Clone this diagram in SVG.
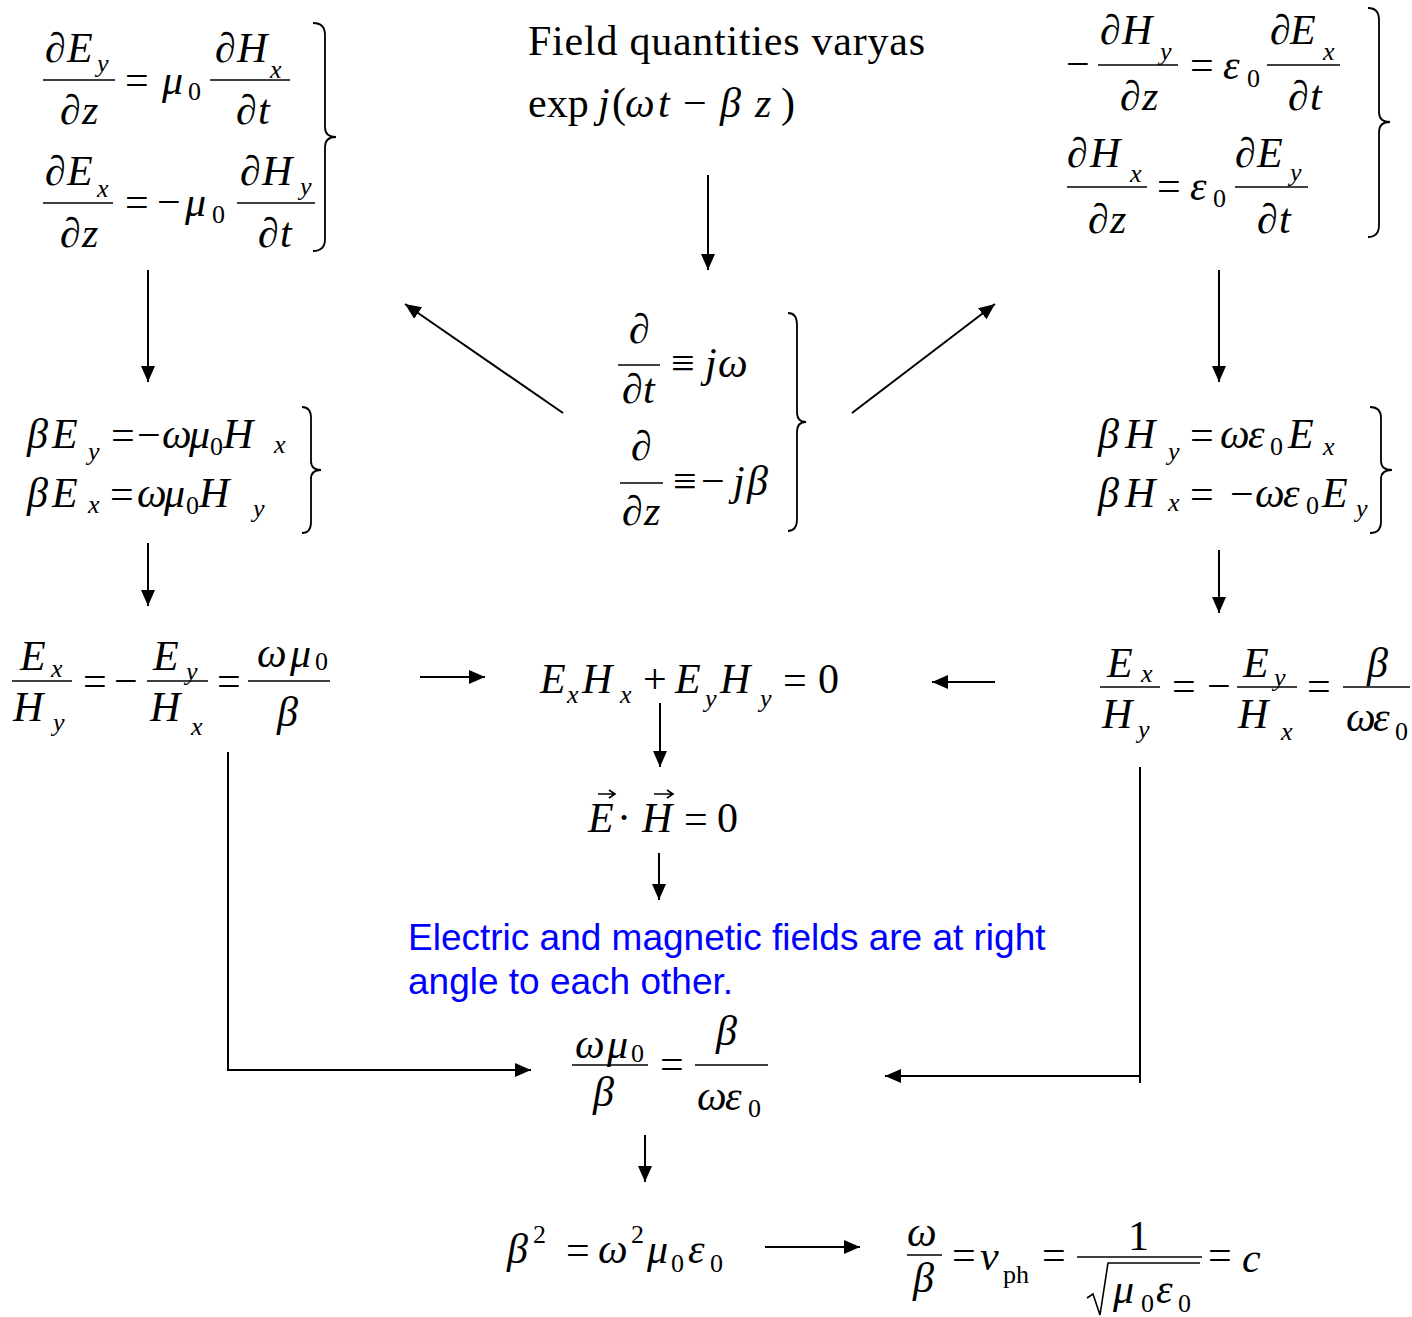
<svg xmlns="http://www.w3.org/2000/svg" width="1412" height="1317" viewBox="0 0 1412 1317">
<style>
.m{font-family:"Liberation Serif","Times New Roman",serif;font-size:42px;font-style:italic;fill:#000}
.u{font-style:normal}
.i{font-style:italic}
.s{font-size:26px}
.t{font-family:"Liberation Serif","Times New Roman",serif;font-size:42px;fill:#000}
.note{font-family:"Liberation Sans",Arial,sans-serif;font-size:37px;fill:#0000ff}
.bar{stroke:#000;stroke-width:1.6;fill:none}
.brace{stroke:#000;stroke-width:1.8;fill:none}
.c{stroke:#000;stroke-width:2;fill:none}
</style>
<defs>
<marker id="ah" viewBox="0 0 16 14" refX="16" refY="7" markerWidth="16" markerHeight="14" markerUnits="userSpaceOnUse" orient="auto"><path d="M0,0 L16,7 L0,14 z" fill="#000"/></marker>
</defs>
<rect width="1412" height="1317" fill="#fff"/>

<g id="faraday">
<text class="m" y="62"><tspan x="45">∂</tspan><tspan x="67">E</tspan><tspan class="s" x="97" y="72">y</tspan></text>
<line class="bar" x1="43" y1="80" x2="115" y2="80"/>
<text class="m" y="124"><tspan x="60">∂</tspan><tspan x="82">z</tspan></text>
<text class="m" y="94"><tspan class="u" x="125">=</tspan><tspan x="162">μ</tspan><tspan class="u s" x="188" y="100">0</tspan></text>
<text class="m" y="62"><tspan x="215">∂</tspan><tspan x="237">H</tspan><tspan class="s" x="270" y="78">x</tspan></text>
<line class="bar" x1="210" y1="80" x2="290" y2="80"/>
<text class="m" y="124"><tspan x="236">∂</tspan><tspan x="258">t</tspan></text>
<text class="m" y="185"><tspan x="45">∂</tspan><tspan x="67">E</tspan><tspan class="s" x="97" y="197">x</tspan></text>
<line class="bar" x1="43" y1="203" x2="113" y2="203"/>
<text class="m" y="247"><tspan x="60">∂</tspan><tspan x="82">z</tspan></text>
<text class="m" y="216"><tspan class="u" x="125">=</tspan><tspan class="u" x="157">−</tspan><tspan x="185">μ</tspan><tspan class="u s" x="212" y="223">0</tspan></text>
<text class="m" y="185"><tspan x="240">∂</tspan><tspan x="262">H</tspan><tspan class="s" x="300" y="195">y</tspan></text>
<line class="bar" x1="237" y1="203" x2="315" y2="203"/>
<text class="m" y="247"><tspan x="258">∂</tspan><tspan x="280">t</tspan></text>
<path class="brace" d="M313,23 Q325,23 325,35 L325,127 Q325,137 336,137 Q325,137 325,147 L325,239 Q325,251 313,251"/>
</g>

<g id="field">
<text class="t" x="528" y="55" textLength="397" lengthAdjust="spacing">Field quantities varyas</text>
<text class="t" y="117"><tspan x="528">exp</tspan><tspan class="i" x="598">j</tspan><tspan x="612">(</tspan><tspan class="i" x="625">ω</tspan><tspan class="i" x="658">t</tspan><tspan x="683">−</tspan><tspan class="i" x="720">β</tspan><tspan class="i" x="755">z</tspan><tspan x="781">)</tspan></text>
</g>

<g id="ampere">
<text class="m" y="78"><tspan class="u" x="1066">−</tspan></text>
<text class="m" y="44"><tspan x="1100">∂</tspan><tspan x="1122">H</tspan><tspan class="s" x="1160" y="60">y</tspan></text>
<line class="bar" x1="1098" y1="65" x2="1178" y2="65"/>
<text class="m" y="110"><tspan x="1120">∂</tspan><tspan x="1142">z</tspan></text>
<text class="m" y="79"><tspan class="u" x="1190">=</tspan><tspan x="1223">ε</tspan><tspan class="u s" x="1247" y="87">0</tspan></text>
<text class="m" y="44"><tspan x="1270">∂</tspan><tspan x="1290">E</tspan><tspan class="s" x="1323" y="60">x</tspan></text>
<line class="bar" x1="1267" y1="65" x2="1340" y2="65"/>
<text class="m" y="110"><tspan x="1288">∂</tspan><tspan x="1310">t</tspan></text>
<text class="m" y="167"><tspan x="1067">∂</tspan><tspan x="1090">H</tspan><tspan class="s" x="1130" y="182">x</tspan></text>
<line class="bar" x1="1067" y1="187" x2="1147" y2="187"/>
<text class="m" y="233"><tspan x="1088">∂</tspan><tspan x="1110">z</tspan></text>
<text class="m" y="200"><tspan class="u" x="1157">=</tspan><tspan x="1190">ε</tspan><tspan class="u s" x="1213" y="207">0</tspan></text>
<text class="m" y="167"><tspan x="1235">∂</tspan><tspan x="1257">E</tspan><tspan class="s" x="1290" y="181">y</tspan></text>
<line class="bar" x1="1235" y1="187" x2="1308" y2="187"/>
<text class="m" y="233"><tspan x="1257">∂</tspan><tspan x="1279">t</tspan></text>
<path class="brace" d="M1368,8 Q1379,8 1379,20 L1379,112 Q1379,122 1390,122 Q1379,122 1379,132 L1379,225 Q1379,237 1368,237"/>
</g>

<g id="operators">
<text class="m" x="629" y="343">∂</text>
<line class="bar" x1="618" y1="365" x2="660" y2="365"/>
<text class="m" y="403"><tspan x="622">∂</tspan><tspan x="643">t</tspan></text>
<text class="m" y="377"><tspan class="u" x="671">≡</tspan><tspan x="705">j</tspan><tspan x="718">ω</tspan></text>
<text class="m" x="631" y="460">∂</text>
<line class="bar" x1="620" y1="483" x2="663" y2="483"/>
<text class="m" y="525"><tspan x="622">∂</tspan><tspan x="644">z</tspan></text>
<text class="m" y="495"><tspan class="u" x="673">≡</tspan><tspan class="u" x="701">−</tspan><tspan x="733">j</tspan><tspan x="747">β</tspan></text>
<path class="brace" d="M788,313 Q797,313 797,325 L797,412 Q797,422 806,422 Q797,422 797,432 L797,519 Q797,531 788,531"/>
</g>

<g id="left-phasor">
<text class="m" y="448"><tspan x="27">β</tspan><tspan x="52">E</tspan><tspan class="s" x="88" y="460">y</tspan><tspan class="u" x="111" y="449">=</tspan><tspan class="u" x="137">−</tspan><tspan x="162" y="448">ω</tspan><tspan x="189">μ</tspan><tspan class="u s" x="210" y="455">0</tspan><tspan x="223" y="448">H</tspan><tspan class="s" x="274" y="453">x</tspan></text>
<text class="m" y="507"><tspan x="27">β</tspan><tspan x="52">E</tspan><tspan class="s" x="88" y="513">x</tspan><tspan class="u" x="110" y="508">=</tspan><tspan x="137" y="507">ω</tspan><tspan x="164">μ</tspan><tspan class="u s" x="186" y="514">0</tspan><tspan x="199" y="507">H</tspan><tspan class="s" x="253" y="517">y</tspan></text>
<path class="brace" d="M302,407 Q311,407 311,418 L311,461 Q311,470 321,470 Q311,470 311,479 L311,522 Q311,533 302,533"/>
</g>

<g id="right-phasor">
<text class="m" y="448"><tspan x="1098">β</tspan><tspan x="1125">H</tspan><tspan class="s" x="1168" y="460">y</tspan><tspan class="u" x="1190" y="449">=</tspan><tspan x="1220" y="448">ω</tspan><tspan x="1248">ε</tspan><tspan class="u s" x="1270" y="455">0</tspan><tspan x="1288" y="448">E</tspan><tspan class="s" x="1323" y="455">x</tspan></text>
<text class="m" y="507"><tspan x="1098">β</tspan><tspan x="1125">H</tspan><tspan class="s" x="1168" y="511">x</tspan><tspan class="u" x="1190" y="508">=</tspan><tspan class="u" x="1230">−</tspan><tspan x="1255" y="507">ω</tspan><tspan x="1283">ε</tspan><tspan class="u s" x="1306" y="514">0</tspan><tspan x="1322" y="507">E</tspan><tspan class="s" x="1356" y="517">y</tspan></text>
<path class="brace" d="M1370,407 Q1381,407 1381,418 L1381,461 Q1381,470 1392,470 Q1381,470 1381,479 L1381,522 Q1381,533 1370,533"/>
</g>

<g id="left-ratio">
<text class="m" y="670"><tspan x="20">E</tspan><tspan class="s" x="51" y="677">x</tspan></text>
<line class="bar" x1="12" y1="681" x2="72" y2="681"/>
<text class="m" y="721"><tspan x="13">H</tspan><tspan class="s" x="53" y="731">y</tspan></text>
<text class="m u" y="695"><tspan x="83">=</tspan><tspan x="114">−</tspan></text>
<text class="m" y="670"><tspan x="153">E</tspan><tspan class="s" x="186" y="680">y</tspan></text>
<line class="bar" x1="147" y1="681" x2="208" y2="681"/>
<text class="m" y="721"><tspan x="150">H</tspan><tspan class="s" x="191" y="735">x</tspan></text>
<text class="m u" x="217" y="695">=</text>
<text class="m" y="667"><tspan x="257">ω</tspan><tspan x="290">μ</tspan><tspan class="u s" x="315" y="670">0</tspan></text>
<line class="bar" x1="248" y1="681" x2="330" y2="681"/>
<text class="m" x="277" y="726">β</text>
</g>

<g id="dot-sum">
<text class="m" y="693"><tspan x="540">E</tspan><tspan class="s" x="567" y="703">x</tspan><tspan x="582" y="693">H</tspan><tspan class="s" x="620" y="703">x</tspan><tspan class="u" x="643" y="693">+</tspan><tspan x="675">E</tspan><tspan class="s" x="705" y="707">y</tspan><tspan x="720" y="693">H</tspan><tspan class="s" x="760" y="707">y</tspan><tspan class="u" x="783" y="694">=</tspan><tspan class="u" x="818" y="693">0</tspan></text>
</g>

<g id="right-ratio">
<text class="m" y="677"><tspan x="1107">E</tspan><tspan class="s" x="1141" y="682">x</tspan></text>
<line class="bar" x1="1100" y1="687" x2="1160" y2="687"/>
<text class="m" y="728"><tspan x="1102">H</tspan><tspan class="s" x="1138" y="738">y</tspan></text>
<text class="m u" y="700"><tspan x="1172">=</tspan><tspan x="1207">−</tspan></text>
<text class="m" y="677"><tspan x="1243">E</tspan><tspan class="s" x="1274" y="686">y</tspan></text>
<line class="bar" x1="1237" y1="687" x2="1297" y2="687"/>
<text class="m" y="728"><tspan x="1238">H</tspan><tspan class="s" x="1281" y="740">x</tspan></text>
<text class="m u" x="1307" y="700">=</text>
<text class="m" x="1367" y="677">β</text>
<line class="bar" x1="1343" y1="687" x2="1410" y2="687"/>
<text class="m" y="731"><tspan x="1346">ω</tspan><tspan x="1373">ε</tspan><tspan class="u s" x="1395" y="740">0</tspan></text>
</g>

<g id="dot-vec">
<text class="m" y="832"><tspan x="588">E</tspan><tspan class="u" x="617">·</tspan><tspan x="642">H</tspan><tspan class="u" x="684" y="833">=</tspan><tspan class="u" x="717" y="832">0</tspan></text>
<path d="M598,794 L614,794 M609,790 L615,794 L609,798" stroke="#000" stroke-width="1.6" fill="none"/>
<path d="M654,794 L672,794 M667,790 L673,794 L667,798" stroke="#000" stroke-width="1.6" fill="none"/>
</g>

<g id="note">
<text class="note" x="408" y="950">Electric and magnetic fields are at right</text>
<text class="note" x="408" y="994">angle to each other.</text>
</g>

<g id="equate">
<text class="m" y="1058"><tspan x="575">ω</tspan><tspan x="607">μ</tspan><tspan class="u s" x="631" y="1062">0</tspan></text>
<line class="bar" x1="572" y1="1065" x2="648" y2="1065"/>
<text class="m" x="593" y="1106">β</text>
<text class="m u" x="660" y="1078">=</text>
<text class="m" x="716" y="1045">β</text>
<line class="bar" x1="695" y1="1065" x2="768" y2="1065"/>
<text class="m" y="1110"><tspan x="697">ω</tspan><tspan x="725">ε</tspan><tspan class="u s" x="748" y="1117">0</tspan></text>
</g>

<g id="beta-squared">
<text class="m" y="1263"><tspan x="507">β</tspan><tspan class="u s" x="533" y="1243">2</tspan><tspan class="u" x="566" y="1264">=</tspan><tspan x="598" y="1263">ω</tspan><tspan class="u s" x="631" y="1243">2</tspan><tspan x="647" y="1263">μ</tspan><tspan class="u s" x="671" y="1272">0</tspan><tspan x="688" y="1263">ε</tspan><tspan class="u s" x="710" y="1272">0</tspan></text>
</g>

<g id="phase-velocity">
<text class="m" x="907" y="1246">ω</text>
<line class="bar" x1="907" y1="1255" x2="942" y2="1255"/>
<text class="m" x="913" y="1292">β</text>
<text class="m" y="1269"><tspan class="u" x="952">=</tspan><tspan x="980" y="1270">v</tspan><tspan class="u s" x="1003" y="1283">ph</tspan><tspan class="u" x="1042" y="1269">=</tspan></text>
<text class="m u" x="1128" y="1250">1</text>
<line class="bar" x1="1077" y1="1257" x2="1202" y2="1257"/>
<path d="M1087,1298 L1093,1294 L1100,1315 L1108,1263 L1200,1263" stroke="#000" stroke-width="1.6" fill="none"/>
<text class="m" y="1303"><tspan x="1113">μ</tspan><tspan class="u s" x="1141" y="1312">0</tspan><tspan x="1156" y="1303">ε</tspan><tspan class="u s" x="1178" y="1312">0</tspan></text>
<text class="m" y="1269"><tspan class="u" x="1208">=</tspan><tspan x="1242" y="1272">c</tspan></text>
</g>

<g id="connectors">
<line class="c" x1="708" y1="175" x2="708" y2="270" marker-end="url(#ah)"/>
<line class="c" x1="563" y1="413" x2="405" y2="304" marker-end="url(#ah)"/>
<line class="c" x1="852" y1="413" x2="995" y2="304" marker-end="url(#ah)"/>
<line class="c" x1="148" y1="270" x2="148" y2="382" marker-end="url(#ah)"/>
<line class="c" x1="1219" y1="270" x2="1219" y2="382" marker-end="url(#ah)"/>
<line class="c" x1="148" y1="543" x2="148" y2="606" marker-end="url(#ah)"/>
<line class="c" x1="1219" y1="550" x2="1219" y2="613" marker-end="url(#ah)"/>
<line class="c" x1="420" y1="677" x2="485" y2="677" marker-end="url(#ah)"/>
<line class="c" x1="995" y1="682" x2="932" y2="682" marker-end="url(#ah)"/>
<line class="c" x1="660" y1="703" x2="660" y2="767" marker-end="url(#ah)"/>
<line class="c" x1="659" y1="853" x2="659" y2="900" marker-end="url(#ah)"/>
<polyline class="c" points="228,752 228,1070 531,1070" marker-end="url(#ah)"/>
<line class="c" x1="1140" y1="767" x2="1140" y2="1083"/>
<line class="c" x1="1140" y1="1076" x2="885" y2="1076" marker-end="url(#ah)"/>
<line class="c" x1="645" y1="1135" x2="645" y2="1182" marker-end="url(#ah)"/>
<line class="c" x1="765" y1="1247" x2="860" y2="1247" marker-end="url(#ah)"/>
</g>
</svg>
